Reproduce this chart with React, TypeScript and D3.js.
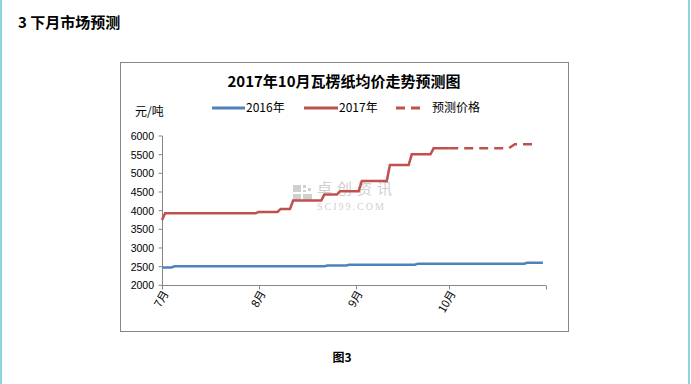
import React from "react";
import * as d3 from "d3";

const monthTicks = ["07-01", "08-01", "09-01", "10-01", "11-01"];
const monthLabels = ["7月", "8月", "9月", "10月", ""];
const yTicks = [2000, 2500, 3000, 3500, 4000, 4500, 5000, 5500, 6000];

const s2016Dates = ["07-01", "07-04", "07-05", "08-22", "08-23", "08-29", "08-30", "09-20", "09-21", "10-25", "10-26", "10-31"];
const s2016Values = [2480, 2480, 2510, 2510, 2530, 2530, 2550, 2550, 2580, 2580, 2605, 2605];

const s2017Dates = ["07-01", "07-02", "07-31", "08-01", "08-07", "08-08", "08-11", "08-12", "08-21", "08-22", "08-26", "08-27", "09-02", "09-03", "09-11", "09-12", "09-18", "09-19", "09-25", "09-26", "10-01"];
const s2017Values = [3750, 3930, 3930, 3965, 3965, 4045, 4045, 4270, 4270, 4430, 4430, 4520, 4520, 4795, 4795, 5222, 5222, 5508, 5508, 5670, 5670];

const forecastDates = ["10-01", "10-20", "10-22", "10-29"];
const forecastValues = [5670, 5670, 5778, 5778];

const title = "2017年10月瓦楞纸均价走势预测图";
const legendNames = ["2016年", "2017年", "预测价格"];

const parse = (s: string) => new Date(`2017-${s}T00:00:00`);

export default function App() {
  const x = d3.scaleTime().domain([parse("07-01"), parse("11-01")]).range([162, 546]);
  const y = d3.scaleLinear().domain([2000, 6000]).range([285.3, 136]);
  const line = d3
    .line<[string, number]>()
    .x((d) => x(parse(d[0])))
    .y((d) => y(d[1]));
  const zip = (a: string[], b: number[]) => a.map((d, i) => [d, b[i]] as [string, number]);

  const axisColor = "#868686";
  const cjk = "'Noto Sans CJK SC', sans-serif";
  const num = "'Liberation Sans', Arial, sans-serif";

  return (
    <svg width={691} height={384} style={{ position: "absolute", left: 0, top: 0, background: "#fff" }}>
      <rect x={0} y={0} width={2} height={384} fill="#8ed4db" />
      <rect x={688} y={0} width={2} height={384} fill="#8ed4db" />
      <text x={18} y={28} fontFamily={cjk} fontWeight="bold" fontSize={15} fill="#000">
        3 下月市场预测
      </text>

      <rect x={120.5} y={62.5} width={448} height={269} fill="#fff" stroke={axisColor} strokeWidth={1} />

      <text x={344} y={87} textAnchor="middle" fontFamily={cjk} fontWeight="bold" fontSize={15} fill="#000">
        {title}
      </text>

      {/* legend */}
      <line x1={212} x2={245} y1={108} y2={108} stroke="#4f81bd" strokeWidth={3} />
      <text x={246} y={112} fontFamily={cjk} fontSize={12} fill="#000">{legendNames[0]}</text>
      <line x1={304} x2={338} y1={108} y2={108} stroke="#c0504d" strokeWidth={3} />
      <text x={339} y={112} fontFamily={cjk} fontSize={12} fill="#000">{legendNames[1]}</text>
      <line x1={396} x2={426} y1={108} y2={108} stroke="#c0504d" strokeWidth={3} strokeDasharray="9,6" />
      <text x={432} y={112} fontFamily={cjk} fontSize={12} fill="#000">{legendNames[2]}</text>

      <text x={135} y={116} fontFamily={cjk} fontSize={12} fill="#000">元/吨</text>

      {/* watermark */}
      <g opacity={0.4}>
        <rect x={293} y={185} width={8} height={7} fill="#888" />
        <rect x={303} y={185} width={3} height={3} fill="#888" />
        <rect x={308} y={188} width={3} height={3} fill="#888" />
        <rect x={303} y={190} width={3} height={2} fill="#888" />
        <rect x={293} y={194} width={8} height={6} fill="#888" />
        <rect x={303} y={194} width={9} height={6} fill="#888" />
        <text x={317} y={194} fontFamily={cjk} fontSize={15} letterSpacing={5} fill="#888">卓创资讯</text>
        <text x={317} y={210} fontFamily="'Liberation Serif', serif" fontSize={10} letterSpacing={2} fill="#888">SCI99.COM</text>
      </g>

      {/* y axis */}
      <line x1={162.5} x2={162.5} y1={y(6000)} y2={y(2000)} stroke={axisColor} />
      {yTicks.map((t) => (
        <g key={t}>
          <line x1={158.5} x2={162.5} y1={y(t)} y2={y(t)} stroke={axisColor} />
          <text x={154} y={y(t) + 4} textAnchor="end" fontFamily={num} fontSize={10.5} fill="#000">
            {t}
          </text>
        </g>
      ))}

      {/* x axis */}
      <line x1={162} x2={546} y1={285.5} y2={285.5} stroke={axisColor} />
      {monthTicks.map((m, i) => {
        const px = Math.round(x(parse(m))) + 0.5;
        return (
          <g key={m}>
            <line x1={px} x2={px} y1={285.5} y2={289.5} stroke={axisColor} />
            {monthLabels[i] && (
              <text
                transform={`translate(${px + 4},${292}) rotate(-60)`}
                textAnchor="end"
                dominantBaseline="middle"
                fontFamily={cjk}
                fontSize={11}
                fill="#000"
              >
                {monthLabels[i]}
              </text>
            )}
          </g>
        );
      })}

      {/* series */}
      <path d={line(zip(s2016Dates, s2016Values)) || ""} fill="none" stroke="#4f81bd" strokeWidth={2.5} />
      <path d={line(zip(s2017Dates, s2017Values)) || ""} fill="none" stroke="#c0504d" strokeWidth={2.5} />
      <path d={line(zip(forecastDates, forecastValues)) || ""} fill="none" stroke="#c0504d" strokeWidth={2.5} strokeDasharray="9,6" />

      <text x={342} y={362} textAnchor="middle" fontFamily={cjk} fontWeight="bold" fontSize={12} fill="#000">
        图3
      </text>
    </svg>
  );
}
